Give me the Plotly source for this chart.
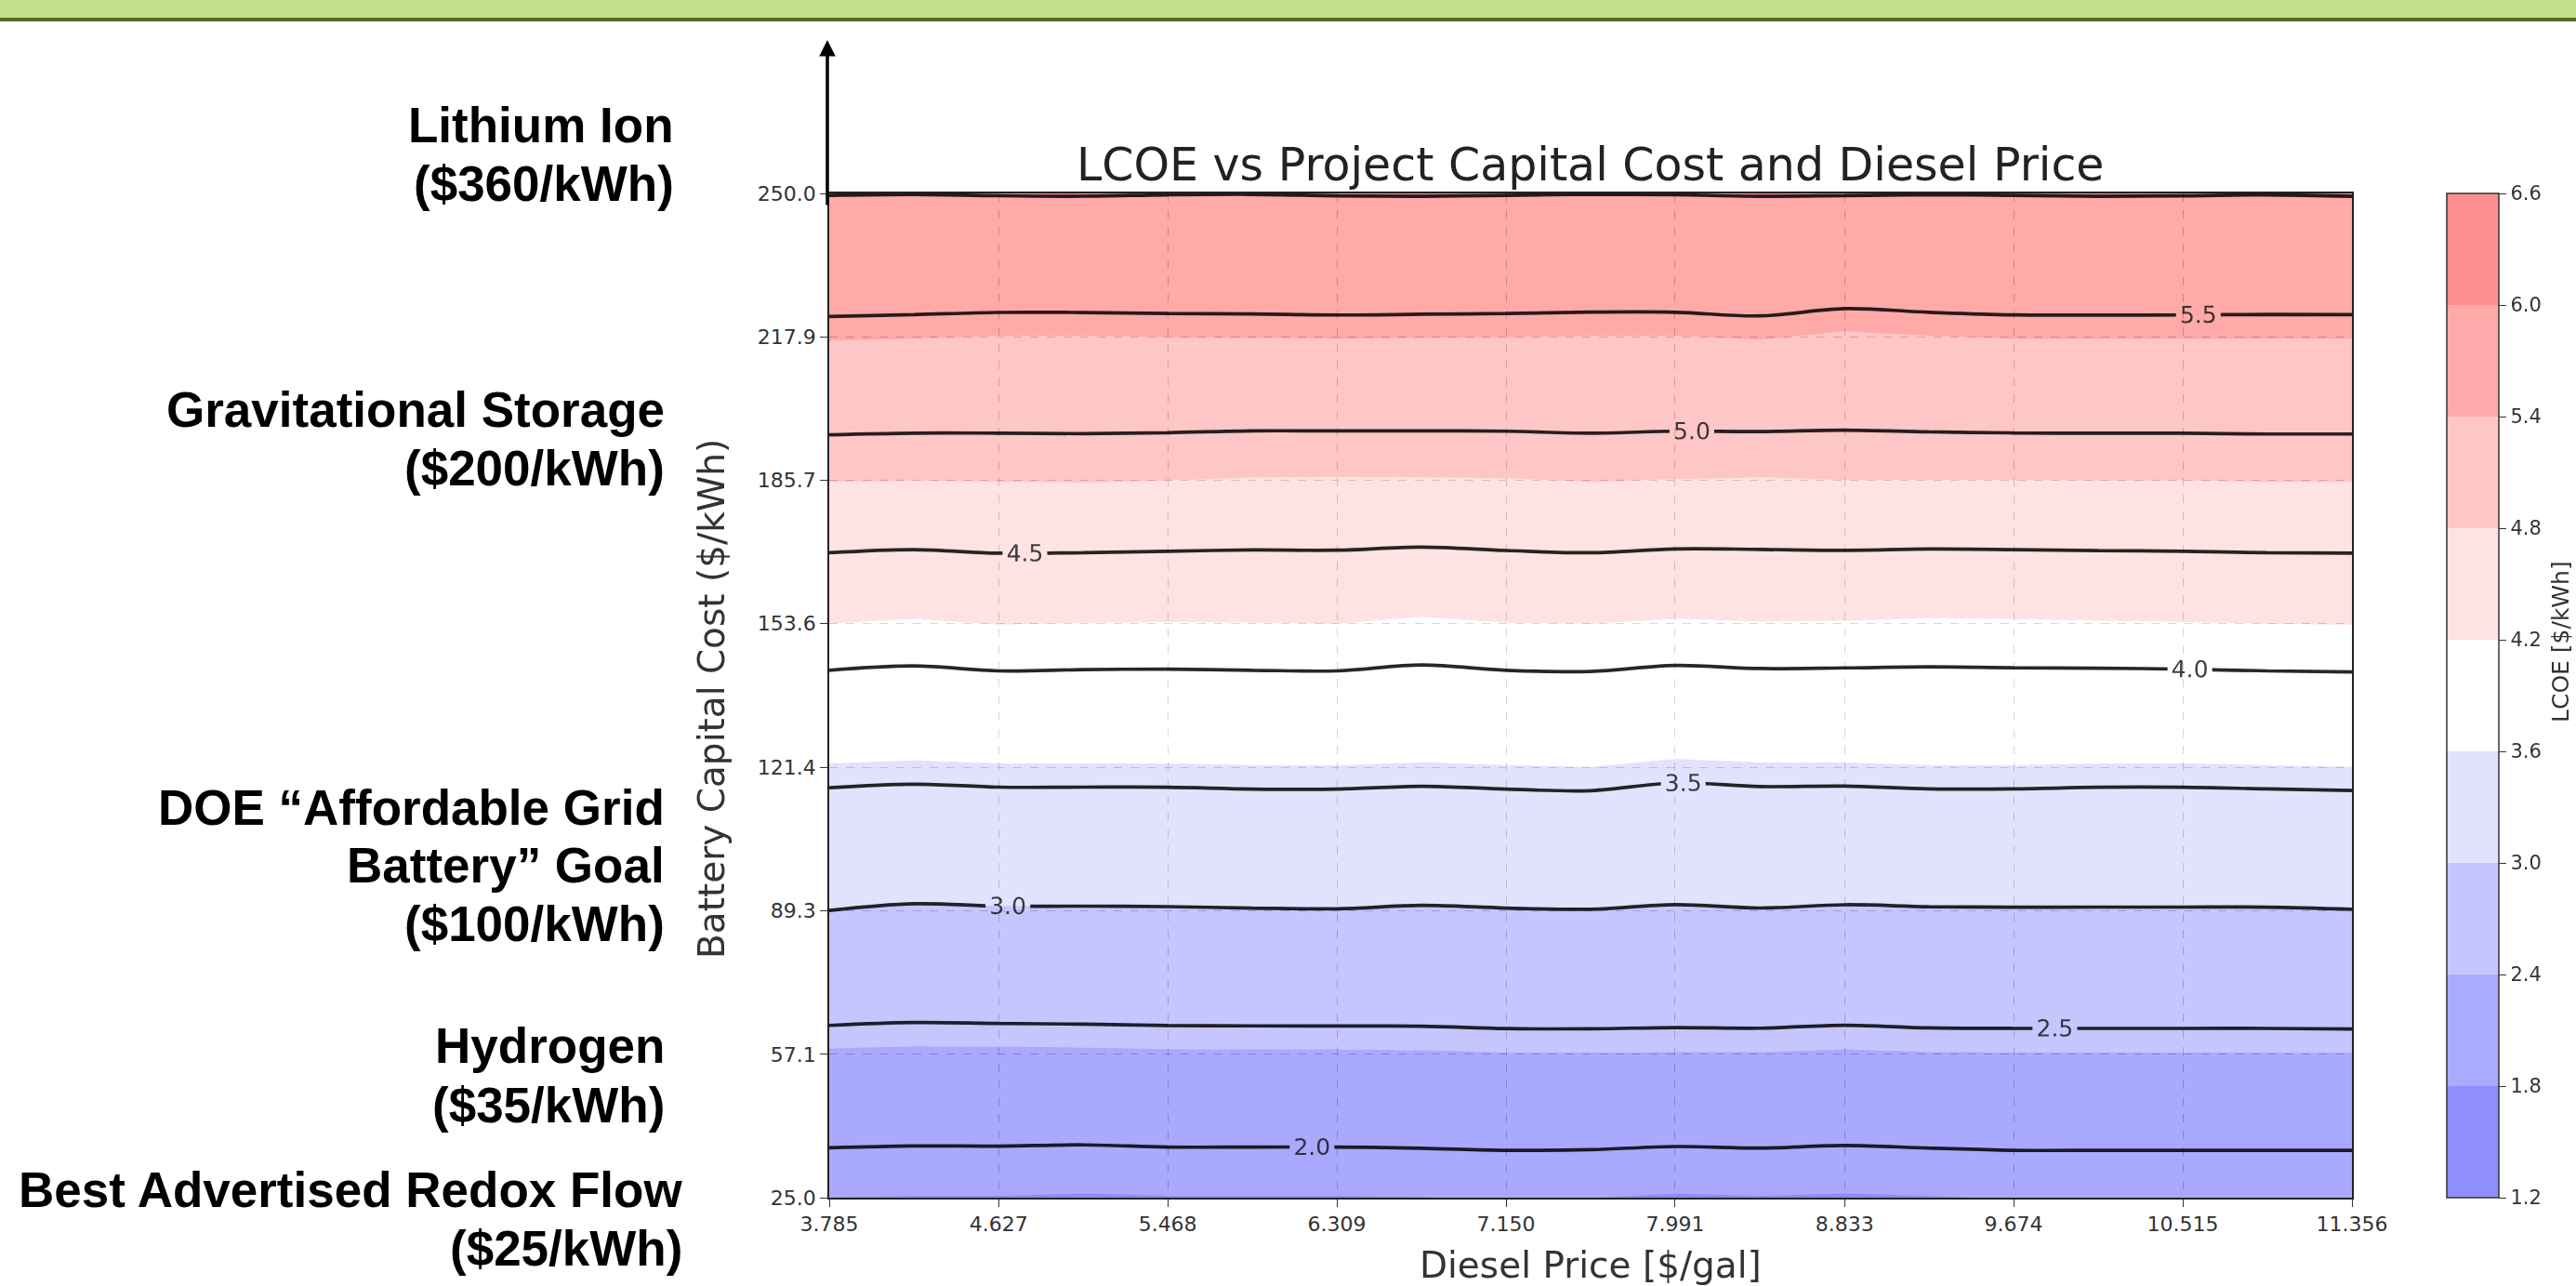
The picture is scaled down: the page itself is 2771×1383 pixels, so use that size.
import plotly.graph_objects as go

# ---------------- data ----------------
DIESEL_PRICE = [3.785, 4.206, 4.627, 5.047, 5.468, 5.888, 6.309, 6.730, 7.150, 7.571,
                7.991, 8.412, 8.833, 9.253, 9.674, 10.094, 10.515, 10.935, 11.356]
BATTERY_COST = [25.0, 57.1, 89.3, 121.4, 153.6, 185.7, 217.9, 250.0]

LCOE_ROW_25 = [1.800, 1.793, 1.793, 1.783, 1.793, 1.793, 1.793, 1.798, 1.806, 1.802,
               1.783, 1.793, 1.783, 1.793, 1.806, 1.806, 1.806, 1.806, 1.806]
LCOE_ROW_57 = [2.374, 2.366, 2.368, 2.372, 2.379, 2.379, 2.379, 2.383, 2.393, 2.393,
               2.391, 2.391, 2.379, 2.391, 2.393, 2.393, 2.393, 2.393, 2.394]
LCOE_ROW_89 = [2.999, 2.971, 2.981, 2.981, 2.983, 2.989, 2.992, 2.978, 2.989, 2.994,
               2.975, 2.989, 2.975, 2.983, 2.985, 2.985, 2.985, 2.985, 2.994]
LCOE_ROW_121 = [3.583, 3.570, 3.583, 3.583, 3.583, 3.591, 3.591, 3.579, 3.591, 3.598,
                3.564, 3.579, 3.579, 3.591, 3.591, 3.583, 3.583, 3.591, 3.597]
LCOE_ROW_154 = [4.200, 4.179, 4.204, 4.196, 4.193, 4.196, 4.200, 4.170, 4.196, 4.200,
                4.179, 4.191, 4.187, 4.176, 4.181, 4.187, 4.193, 4.200, 4.204]
LCOE_ROW_186 = [4.806, 4.800, 4.806, 4.809, 4.800, 4.787, 4.785, 4.787, 4.791, 4.806,
                4.794, 4.787, 4.798, 4.798, 4.798, 4.800, 4.800, 4.806, 4.806]
LCOE_ROW_218 = [5.417, 5.408, 5.396, 5.396, 5.402, 5.405, 5.409, 5.405, 5.402, 5.396,
                5.396, 5.413, 5.376, 5.396, 5.409, 5.409, 5.409, 5.407, 5.407]
LCOE_ROW_250 = [6.008, 6.004, 6.010, 6.012, 6.006, 6.004, 6.010, 6.012, 6.008, 6.004,
                6.006, 6.012, 6.010, 6.006, 6.008, 6.012, 6.010, 6.006, 6.012]
LCOE = [LCOE_ROW_25, LCOE_ROW_57, LCOE_ROW_89, LCOE_ROW_121,
        LCOE_ROW_154, LCOE_ROW_186, LCOE_ROW_218, LCOE_ROW_250]

X_TICKS = [3.785, 4.627, 5.468, 6.309, 7.150, 7.991, 8.833, 9.674, 10.515, 11.356]
X_TICK_TEXT = ["3.785", "4.627", "5.468", "6.309", "7.150", "7.991", "8.833", "9.674", "10.515", "11.356"]
Y_TICKS = [25.0, 57.1, 89.3, 121.4, 153.6, 185.7, 217.9, 250.0]
Y_TICK_TEXT = ["25.0", "57.1", "89.3", "121.4", "153.6", "185.7", "217.9", "250.0"]
CBAR_TICKS = [1.2, 1.8, 2.4, 3.0, 3.6, 4.2, 4.8, 5.4, 6.0, 6.6]
CBAR_TICK_TEXT = ["1.2", "1.8", "2.4", "3.0", "3.6", "4.2", "4.8", "5.4", "6.0", "6.6"]

TITLE = "LCOE vs Project Capital Cost and Diesel Price"
X_TITLE = "Diesel Price [$/gal]"
Y_TITLE = "Battery Capital Cost ($/kWh)"
CBAR_TITLE = "LCOE [$/kWh]"
TECH_LINES = ["Lithium Ion", "($360/kWh)",
              "Gravitational Storage", "($200/kWh)",
              "DOE \u201cAffordable Grid", "Battery\u201d Goal", "($100/kWh)",
              "Hydrogen", "($35/kWh)",
              "Best Advertised Redox Flow", "($25/kWh)"]

# ---------------- geometry / style ----------------
W, H = 2771, 1383
L, R, T, B = 892, 2530, 208, 1288


def px(x):
    return (x - L) / (R - L)


def py(y):
    return (B - y) / (B - T)


# bwr colormap base colours for the 9 bands (1.2..6.6 step 0.6)
BAND_BASE = [(28, 28, 255), (85, 85, 255), (142, 142, 255), (198, 198, 255), (255, 255, 255),
             (255, 198, 198), (255, 142, 142), (255, 85, 85), (255, 28, 28)]


def rgb(c):
    return "rgb(%d,%d,%d)" % c


def blend(c, a=0.5):
    return tuple(int(round(255 * (1 - a) + a * v)) for v in c)


# contour fill colourscale (plotly maps level L to f=((L-1.2)/0.6+0.5)/10)
fill_scale = []
bounds = [0.0] + [0.05 + 0.1 * k for k in range(1, 9)] + [1.0]
for k, c in enumerate(BAND_BASE):
    fill_scale.append([bounds[k], rgb(c)])
    fill_scale.append([bounds[k + 1], rgb(c)])

# colorbar colourscale (blended, stepped, 1.2..6.6)
cbar_scale = []
for k, c in enumerate(BAND_BASE):
    cbar_scale.append([k / 9, rgb(blend(c))])
    cbar_scale.append([(k + 1) / 9, rgb(blend(c))])

fig = go.Figure()

fig.add_trace(go.Contour(
    x=DIESEL_PRICE, y=BATTERY_COST, z=LCOE,
    contours=dict(start=1.2, end=6.6, size=0.6, coloring="fill", showlines=False),
    colorscale=fill_scale, line=dict(width=0, smoothing=0),
    opacity=0.5, showscale=False, hoverinfo="skip",
))

fig.add_trace(go.Contour(
    x=DIESEL_PRICE, y=BATTERY_COST, z=LCOE,
    contours=dict(start=2.0, end=6.0, size=0.5, coloring="none", showlabels=True,
                  labelfont=dict(size=25, color="#1a1a1a", family="DejaVu Sans"),
                  labelformat=".1f"),
    line=dict(color="black", width=3.7, smoothing=1.0),
    opacity=0.85, showscale=False, hoverinfo="skip",
))

# colour bar provider (points lie outside the axis range)
fig.add_trace(go.Scatter(
    x=[0, 0], y=[0, 0], mode="markers", hoverinfo="skip", showlegend=False,
    marker=dict(color=[CBAR_TICKS[0], CBAR_TICKS[-1]], cmin=CBAR_TICKS[0], cmax=CBAR_TICKS[-1],
                colorscale=cbar_scale, showscale=True,
                colorbar=dict(x=px(2632), xanchor="left", y=0.5, yanchor="middle",
                              len=1, lenmode="fraction", thickness=56, thicknessmode="pixels",
                              xpad=0, ypad=0, outlinewidth=1.5, outlinecolor="#333",
                              ticks="outside", ticklen=8, tickwidth=1.2, tickcolor="#333",
                              tickvals=CBAR_TICKS, ticktext=CBAR_TICK_TEXT,
                              tickfont=dict(size=21, color="#333", family="DejaVu Sans"))),
))

axis_common = dict(showline=True, linecolor="#222", linewidth=1.5, mirror=True,
                   ticks="outside", ticklen=8, tickwidth=1.3, tickcolor="#333",
                   tickfont=dict(size=22, color="#333", family="DejaVu Sans"),
                   showgrid=True, gridcolor="#b0b0b0", gridwidth=1, griddash="dash",
                   zeroline=False, layer="above traces", automargin=False)

fig.update_layout(
    width=W, height=H, template="none",
    margin=dict(l=L, r=W - R, t=T, b=H - B, pad=0),
    paper_bgcolor="white", plot_bgcolor="white",
    font=dict(family="DejaVu Sans", color="#222"),
    showlegend=False,
    xaxis=dict(range=[DIESEL_PRICE[0], DIESEL_PRICE[-1]], tickvals=X_TICKS, ticktext=X_TICK_TEXT,
               **axis_common),
    yaxis=dict(range=[BATTERY_COST[0], BATTERY_COST[-1]], tickvals=Y_TICKS, ticktext=Y_TICK_TEXT,
               **axis_common),
)

# top banner
fig.add_shape(type="rect", xref="paper", yref="paper", x0=px(0), x1=px(W), y0=py(19), y1=py(0),
              fillcolor="#C4DF8D", line=dict(width=0), layer="above")
fig.add_shape(type="rect", xref="paper", yref="paper", x0=px(0), x1=px(W), y0=py(23), y1=py(19),
              fillcolor="#4F6B25", line=dict(width=0), layer="above")

annotations = []
# title and axis titles
annotations.append(dict(text=TITLE, x=px(1711), y=py(177), xref="paper", yref="paper",
                        showarrow=False, xanchor="center", yanchor="middle",
                        font=dict(size=49, family="DejaVu Sans", color="#222")))
annotations.append(dict(text=X_TITLE, x=px(1711), y=py(1360), xref="paper", yref="paper",
                        showarrow=False, xanchor="center", yanchor="middle",
                        font=dict(size=39, family="DejaVu Sans", color="#333")))
annotations.append(dict(text=Y_TITLE, x=px(765), y=py(752), xref="paper", yref="paper",
                        showarrow=False, xanchor="center", yanchor="middle", textangle=-90,
                        font=dict(size=39, family="DejaVu Sans", color="#333")))
annotations.append(dict(text=CBAR_TITLE, x=px(2754), y=py(690), xref="paper", yref="paper",
                        showarrow=False, xanchor="center", yanchor="middle", textangle=-90,
                        font=dict(size=25, family="DejaVu Sans", color="#333")))

# technology labels on the left
tech_pos = [(727, 134), (727, 198),
            (717, 440), (717, 504),
            (717, 868), (717, 930), (717, 993),
            (717, 1124), (717, 1188),
            (736, 1279), (736, 1343)]
for txt, (xr, yc) in zip(TECH_LINES, tech_pos):
    annotations.append(dict(text="<b>" + txt + "</b>", x=px(xr), y=py(yc), xref="paper", yref="paper",
                            showarrow=False, xanchor="right", yanchor="middle",
                            font=dict(size=53, family="Liberation Sans, Arial", color="black")))

# upward arrow
annotations.append(dict(text="", x=px(890), y=py(43), xref="paper", yref="paper",
                        showarrow=True, ax=0, ay=222 - 43, axref="pixel", ayref="pixel",
                        arrowhead=2, arrowsize=1.0, arrowwidth=3.5, arrowcolor="black",
                        standoff=0, startstandoff=0))

fig.update_layout(annotations=annotations)

fig.write_html("out.html", include_plotlyjs=True, full_html=True,
               config={"displayModeBar": False},
               post_script="document.body.style.margin='0';document.body.style.overflow='hidden';")
